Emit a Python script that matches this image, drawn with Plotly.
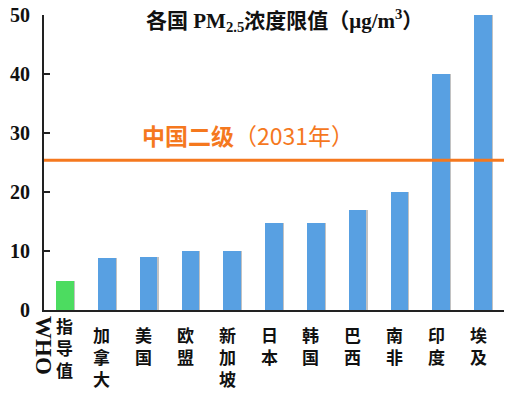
import plotly.graph_objects as go

# ---- data ----
categories = ["WHO指导值", "加拿大", "美国", "欧盟", "新加坡", "日本", "韩国", "巴西", "南非", "印度", "埃及"]
label_chars = [["指", "导", "值"], ["加", "拿", "大"], ["美", "国"], ["欧", "盟"], ["新", "加", "坡"],
               ["日", "本"], ["韩", "国"], ["巴", "西"], ["南", "非"], ["印", "度"], ["埃", "及"]]
values = [5, 8.8, 9, 10, 10, 14.8, 14.8, 17, 20, 40, 50]
bar_colors = ["#4cdc60"] + ["#58a0e2"] * 10
china_value = 25.4
china_label = "<b>中国二级</b>（2031年）"
y_ticks = [0, 10, 20, 30, 40, 50]

fig = go.Figure()

# subtle shadow behind bars
fig.add_trace(go.Bar(
    x=categories, y=values, width=0.42, offset=-0.18,
    marker=dict(color="rgba(80,80,80,0.35)", line=dict(width=0)),
    hoverinfo="skip", showlegend=False,
))
fig.add_trace(go.Bar(
    x=categories, y=values, width=0.42, offset=-0.21,
    marker=dict(color=bar_colors, line=dict(width=0)),
    showlegend=False,
))

fig.add_shape(type="line", xref="paper", x0=0, x1=1, yref="y", y0=china_value, y1=china_value,
              line=dict(color="#f5781e", width=3))

annotations = []
# x labels, one character per line
for i, (cat, chars) in enumerate(zip(categories, label_chars)):
    annotations.append(dict(
        x=cat, xref="x", y=0, yref="y", yanchor="top", xanchor="center",
        yshift=-1 if i == 0 else -10, xshift=0 if i == 0 else -5,
        text="<br>".join(chars), showarrow=False,
        font=dict(family="Noto Sans CJK SC", size=17, color="#111111", weight="bold"),
    ))
annotations.append(dict(
    x=categories[0], xref="x", y=0, yref="y", yanchor="middle", xanchor="center",
    xshift=-21, yshift=-36, text="<b>WHO</b>", textangle=90, showarrow=False,
    font=dict(family="Liberation Serif", size=23, color="#111111"),
))
# title
annotations.append(dict(
    x=0.511, xref="paper", y=1, yref="paper", yanchor="middle", xanchor="center",
    yshift=-5, xshift=5,
    text="<b>各国 PM<sub>2.5</sub>浓度限值（μg/m<sup>3</sup>）</b>", showarrow=False,
    font=dict(family="Liberation Serif, Noto Sans CJK SC", size=21, color="#111111"),
))
# China label
annotations.append(dict(
    x=0.443, xref="paper", y=china_value, yref="y", yanchor="bottom", xanchor="center", yshift=6,
    text=china_label, showarrow=False,
    font=dict(family="Noto Sans CJK SC", size=23, color="#f5781e"),
))

fig.update_layout(
    width=520, height=398,
    margin=dict(l=44, r=16, t=15, b=88),
    paper_bgcolor="white", plot_bgcolor="white",
    barmode="overlay", bargap=0,
    annotations=annotations,
    xaxis=dict(
        range=[-0.5, 10.5], showticklabels=False, ticks="", automargin=False,
        showline=True, linecolor="#222222", linewidth=2, showgrid=False, zeroline=False,
    ),
    yaxis=dict(
        range=[0, 50], tickvals=y_ticks, ticks="inside", ticklen=6, tickwidth=2, tickcolor="#222222",
        showline=True, linecolor="#222222", linewidth=2, showgrid=False, zeroline=False,
        tickfont=dict(family="Liberation Serif", size=20, color="#111111", weight="bold"),
        ticklabelstandoff=8, automargin=False,
    ),
)

fig.write_html("out.html", config={"displayModeBar": False},
               post_script="document.body.style.margin='0';")
